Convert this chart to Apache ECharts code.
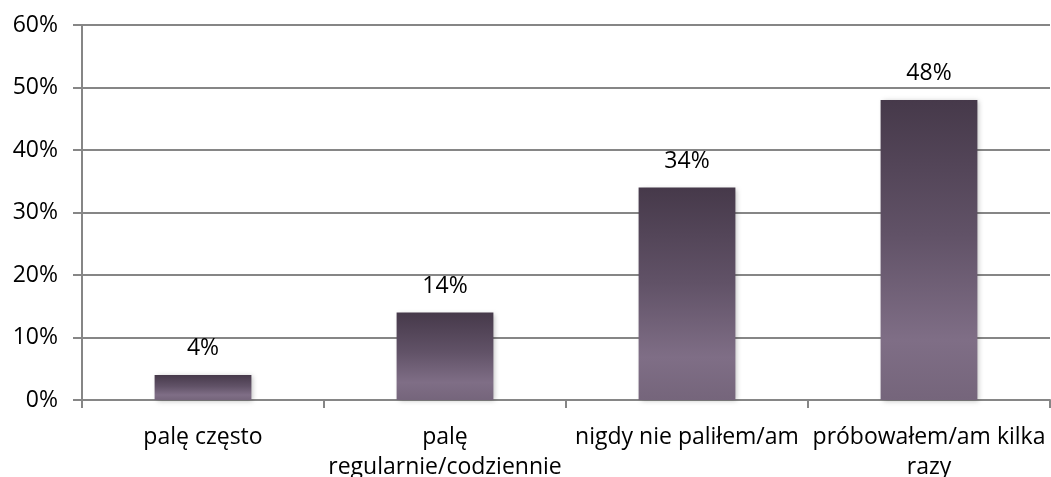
<!DOCTYPE html>
<html><head><meta charset="utf-8">
<script src="https://cdn.jsdelivr.net/npm/echarts@6/dist/echarts.min.js"></script>
<style>html,body{margin:0;padding:0;background:#fff;overflow:hidden}#c{width:1051px;height:477px}</style>
</head><body><div id="c"></div>
<script>
const categories = ['palę często', 'palę\nregularnie/codziennie', 'nigdy nie paliłem/am', 'próbowałem/am kilka\nrazy'];
const values = [4, 14, 34, 48];
const yTicks = { min: 0, max: 60, interval: 10 };

const chart = echarts.init(document.getElementById('c'));
const font = 'Open Sans';
chart.setOption({
  animation: false,
  grid: { left: 82, right: 1, top: 25, bottom: 77, containLabel: false, outerBoundsMode: 'none' },
  xAxis: {
    type: 'category', data: categories,
    axisLine: { lineStyle: { color: '#868686', width: 2 } },
    axisTick: { show: true, length: 8, lineStyle: { color: '#868686', width: 2 } },
    axisLabel: { color: '#000', fontFamily: font, fontSize: 23, lineHeight: 30, margin: 22, interval: 0 }
  },
  yAxis: {
    type: 'value', min: yTicks.min, max: yTicks.max, interval: yTicks.interval,
    axisLine: { show: true, lineStyle: { color: '#868686', width: 2 } },
    axisTick: { show: true, length: 9, lineStyle: { color: '#868686', width: 2 } },
    splitLine: { lineStyle: { color: '#868686', width: 2 } },
    axisLabel: { color: '#000', fontFamily: font, fontSize: 23, margin: 24, formatter: '{value}%' }
  },
  series: [{
    type: 'bar', data: values, barWidth: '40%',
    itemStyle: {
      color: { type: 'linear', x: 0, y: 0, x2: 0, y2: 1, colorStops: [
        { offset: 0, color: '#46394a' }, { offset: 0.45, color: '#615267' },
        { offset: 0.8, color: '#7f6e86' }, { offset: 1, color: '#75657b' } ] },
      shadowBlur: 5, shadowOffsetX: 2, shadowOffsetY: 1, shadowColor: 'rgba(0,0,0,0.25)'
    },
    label: { show: true, position: 'top', distance: 15, formatter: '{c}%', color: '#000', fontFamily: font, fontSize: 23 }
  }]
});
</script></body></html>
